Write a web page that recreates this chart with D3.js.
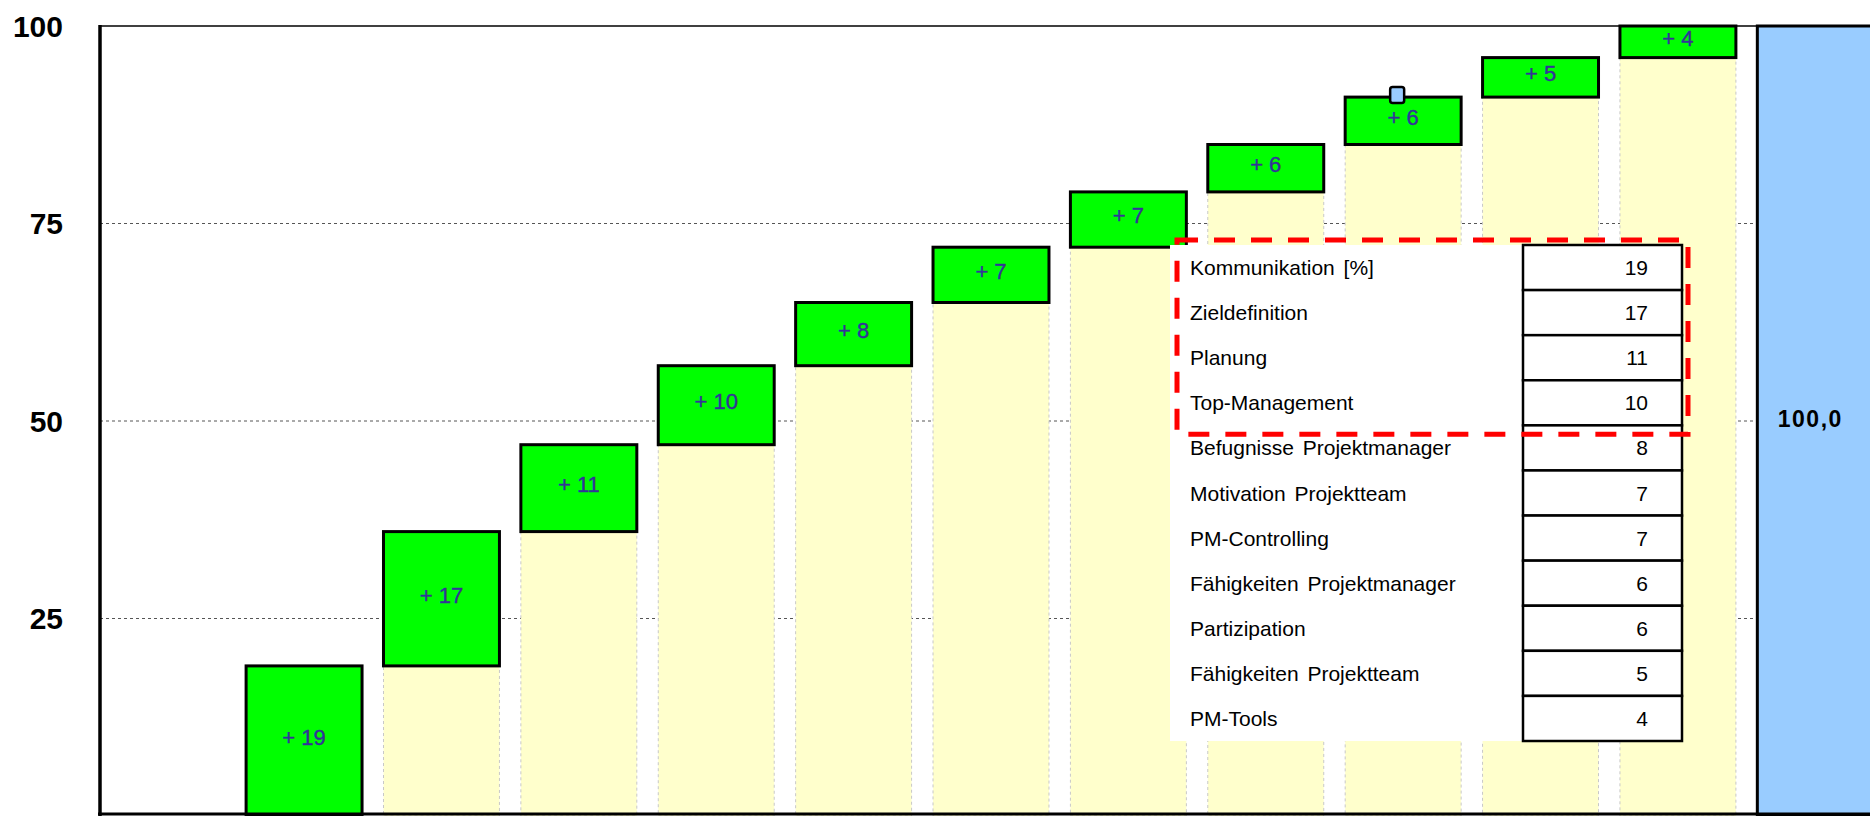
<!DOCTYPE html>
<html>
<head>
<meta charset="utf-8">
<script src="https://cdn.jsdelivr.net/npm/d3@7/dist/d3.min.js"></script>
<style>
  html, body { margin: 0; padding: 0; background: #ffffff; }
  svg { display: block; font-family: "Liberation Sans", Arial, sans-serif; }
</style>
</head>
<body>
<svg id="chart" width="1870" height="816"></svg>
<script>
// Erfolgsfaktoren im Projektmanagement – Wasserfall der Anteile
const categories = [
  "Kommunikation [%]", "Zieldefinition", "Planung", "Top-Management",
  "Befugnisse Projektmanager", "Motivation Projektteam", "PM-Controlling",
  "Fähigkeiten Projektmanager", "Partizipation", "Fähigkeiten Projektteam", "PM-Tools"
];
const values = [19, 17, 11, 10, 8, 7, 7, 6, 6, 5, 4];
const totalValue = 100;
const totalLabel = "100,0";
const yTicks = [25, 50, 75, 100];
const highlightedRows = 4;          // obere Gruppe im Kasten
const markedCategory = "Partizipation"; // kleiner Marker auf dem Balkenkopf

const W = 1870, H = 816;
const svg = d3.select("#chart");

// Slots: leerer Anfang, Einzelfaktoren, Summenbalken
const slots = ["", ...categories, "Summe"];
const x = d3.scaleBand().domain(slots).range([98, 1884])
  .paddingInner(0.156).paddingOuter(0.078);
const y = d3.scaleLinear().domain([0, 100]).range([816, 26]);

// kumulierte Start-/Endwerte
let acc = 0;
const steps = categories.map((c, i) => {
  const start = acc; acc += values[i];
  return { cat: c, value: values[i], start, end: acc };
});

// Hintergrund
svg.append("rect").attr("width", W).attr("height", H).attr("fill", "#ffffff");

// Gitterlinien
svg.append("g").selectAll("line").data(yTicks.filter(t => t < 100)).join("line")
  .attr("x1", 100).attr("x2", W)
  .attr("y1", d => y(d)).attr("y2", d => y(d))
  .attr("stroke", "#555").attr("stroke-width", 1).attr("stroke-dasharray", "3,3");

// obere Begrenzung
svg.append("line").attr("x1", 100).attr("x2", W).attr("y1", y(100)).attr("y2", y(100))
  .attr("stroke", "#000").attr("stroke-width", 1.5);

// Sockelbalken (hellgelb)
svg.append("g").selectAll("rect").data(steps.filter(d => d.start > 0)).join("rect")
  .attr("x", d => x(d.cat)).attr("width", x.bandwidth())
  .attr("y", d => y(d.start)).attr("height", d => y(0) - y(d.start))
  .attr("fill", "#FFFFCC").attr("stroke", "#c8c8c8").attr("stroke-width", 1)
  .attr("stroke-dasharray", "3,3");

// Zuwachsbalken (grün)
svg.append("g").selectAll("rect").data(steps).join("rect")
  .attr("x", d => x(d.cat)).attr("width", x.bandwidth())
  .attr("y", d => y(d.end)).attr("height", d => y(d.start) - y(d.end))
  .attr("fill", "#00FF00").attr("stroke", "#000").attr("stroke-width", 3);

svg.append("g").selectAll("text").data(steps).join("text")
  .attr("x", d => x(d.cat) + x.bandwidth() / 2)
  .attr("y", d => y((d.start + d.end) / 2) - 4)
  .attr("dy", "0.36em").attr("text-anchor", "middle")
  .attr("font-size", 22).attr("fill", "#333399")
  .attr("stroke", "#333399").attr("stroke-width", 0.4)
  .text(d => "+ " + d.value);

// Summenbalken
svg.append("rect")
  .attr("x", x("Summe")).attr("width", x.bandwidth())
  .attr("y", y(totalValue)).attr("height", y(0) - y(totalValue))
  .attr("fill", "#99CCFF").attr("stroke", "#000").attr("stroke-width", 3);
svg.append("text")
  .attr("x", x("Summe") + x.bandwidth() / 2 - 5).attr("y", y(totalValue / 2) - 2)
  .attr("dy", "0.36em").attr("text-anchor", "middle")
  .attr("font-size", 23).attr("font-weight", "bold").attr("fill", "#000")
  .attr("letter-spacing", 1.5)
  .text(totalLabel);

// Marker auf dem Balkenkopf
const mStep = steps.find(d => d.cat === markedCategory);
svg.append("rect")
  .attr("x", x(mStep.cat) + x.bandwidth() / 2 - 13).attr("y", y(mStep.end) - 10)
  .attr("width", 14).attr("height", 16).attr("rx", 2.5)
  .attr("fill", "#99CCFF").attr("stroke", "#000").attr("stroke-width", 2.5);

// Tabelle der Faktoren
const rows = d3.scaleBand().domain(categories).range([245, 741]);
const table = svg.append("g");
table.append("rect").attr("x", 1170).attr("y", rows.range()[0])
  .attr("width", 1682 - 1170).attr("height", rows.range()[1] - rows.range()[0])
  .attr("fill", "#ffffff");
table.selectAll("rect.cell").data(steps).join("rect").attr("class", "cell")
  .attr("x", 1523).attr("width", 1682 - 1523)
  .attr("y", d => rows(d.cat)).attr("height", rows.bandwidth())
  .attr("fill", "#ffffff").attr("stroke", "#000").attr("stroke-width", 2.5);
table.selectAll("text.lbl").data(steps).join("text").attr("class", "lbl")
  .attr("x", 1190).attr("y", d => rows(d.cat) + rows.bandwidth() / 2)
  .attr("dy", "0.36em").attr("font-size", 21).attr("fill", "#000")
  .attr("word-spacing", 3)
  .text(d => d.cat);
table.selectAll("text.val").data(steps).join("text").attr("class", "val")
  .attr("x", 1648).attr("y", d => rows(d.cat) + rows.bandwidth() / 2)
  .attr("dy", "0.36em").attr("text-anchor", "end")
  .attr("font-size", 21).attr("fill", "#000")
  .text(d => d.value);

// Hervorhebung der wichtigsten Faktoren
const topRow = rows(categories[0]);
const bottomRow = rows(categories[highlightedRows - 1]) + rows.bandwidth();
svg.append("rect")
  .attr("x", 1177).attr("y", topRow - 5)
  .attr("width", 1688 - 1177).attr("height", bottomRow + 9 - (topRow - 5))
  .attr("fill", "none").attr("stroke", "#FF0000").attr("stroke-width", 5)
  .attr("stroke-dasharray", "21,16");

// Achsen
svg.append("line").attr("x1", 100).attr("x2", 100).attr("y1", y(100) - 1).attr("y2", y(0))
  .attr("stroke", "#000").attr("stroke-width", 3.5);
svg.append("line").attr("x1", 98).attr("x2", W).attr("y1", y(0) - 2).attr("y2", y(0) - 2)
  .attr("stroke", "#000").attr("stroke-width", 3);

svg.append("g").selectAll("text").data(yTicks).join("text")
  .attr("x", 63).attr("y", d => y(d)).attr("dy", "0.36em")
  .attr("text-anchor", "end").attr("font-size", 30).attr("font-weight", "bold")
  .attr("fill", "#000")
  .text(d => d);
</script>
</body>
</html>
